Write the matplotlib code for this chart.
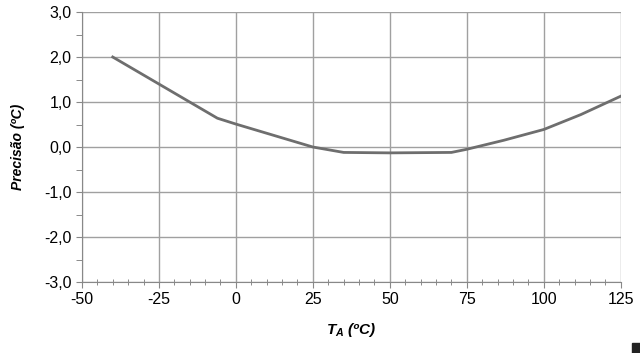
import numpy as np
import matplotlib.pyplot as plt
from matplotlib.ticker import MultipleLocator
from matplotlib.patches import Rectangle

plt.rcParams['font.family'] = ['Liberation Sans', 'DejaVu Sans']
plt.rcParams['axes.unicode_minus'] = False
plt.rcParams['mathtext.fontset'] = 'custom'
plt.rcParams['mathtext.bfit'] = 'Liberation Sans:bold:italic'
plt.rcParams['mathtext.it'] = 'Liberation Sans:bold:italic'
plt.rcParams['mathtext.rm'] = 'Liberation Sans:bold:italic'

# temperatura ambiente (C) e precisao (C)
temp = [-40, -6, 0, 25, 35, 50, 70, 75, 87, 100, 112, 125]
precisao = [2.0, 0.64, 0.51, 0.0, -0.12, -0.13, -0.12, -0.05, 0.15, 0.39, 0.72, 1.13]

x_ticks = [-50, -25, 0, 25, 50, 75, 100, 125]
y_ticks = [-3.0, -2.0, -1.0, 0.0, 1.0, 2.0, 3.0]
y_labels = ['-3,0', '-2,0', '-1,0', '0,0', '1,0', '2,0', '3,0']

fig = plt.figure(figsize=(6.4, 3.53), dpi=100)
ax = fig.add_axes([0.128, 0.201, 0.842, 0.765])

ax.plot(temp, precisao, color='#6e6e6e', lw=2)

ax.set_xlim(-50, 125)
ax.set_ylim(-3, 3)
ax.set_xticks(x_ticks)
ax.set_yticks(y_ticks)
ax.set_yticklabels(y_labels)
ax.xaxis.set_minor_locator(MultipleLocator(5))
ax.yaxis.set_minor_locator(MultipleLocator(0.5))
ax.tick_params(axis='both', which='major', labelsize=11.5, length=4, color='#888888', direction='out')
ax.tick_params(axis='x', which='minor', length=5, color='#777777', direction='inout')
ax.tick_params(axis='y', which='minor', length=4, color='#777777', direction='out')
ax.grid(True, which='major', color='#a0a0a0', lw=1)

for s in ['top', 'right']:
    ax.spines[s].set_visible(False)
for s in ['left', 'bottom']:
    ax.spines[s].set_color('#888888')

ax.set_ylabel('Precisão (ºC)', fontsize=10, fontweight='bold', style='italic', labelpad=14)
ax.set_xlabel('$T_A$ (ºC)', fontsize=11, fontweight='bold', style='italic', labelpad=10)

# mancha escura no canto (digitalizacao)
fig.patches.append(Rectangle((632/640, 0), 8/640, 10/353, transform=fig.transFigure,
                             color='#222222', figure=fig))

fig.savefig('out.png', dpi=100)
